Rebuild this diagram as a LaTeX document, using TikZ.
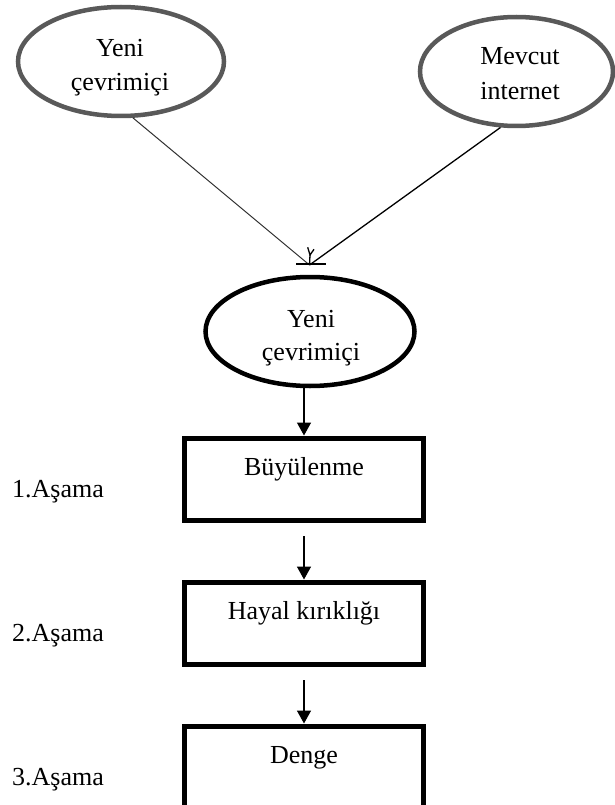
\documentclass[tikz,border=0pt]{standalone}
\usepackage{fontspec}
\setmainfont{Liberation Serif}
\usetikzlibrary{shapes.geometric,arrows.meta}
\begin{document}
\begin{tikzpicture}[x=1pt,y=-1pt,
  every node/.style={font=\fontsize{26}{34}\selectfont},
  txt/.style={anchor=base,inner sep=0pt},
  lbl/.style={anchor=base west,inner sep=0pt},
  grayell/.style={ellipse,draw=black!65,line width=4.5pt,inner sep=0pt,minimum height=109pt},
  blackell/.style={ellipse,draw=black,line width=4.5pt,inner sep=0pt,minimum height=109pt},
  stagebox/.style={rectangle,draw=black,line width=5pt,minimum width=239pt,minimum height=82pt,
    text height=18pt,text depth=26pt,inner sep=0pt},
  arr/.style={line width=1.5pt,-{Triangle[width=14pt,length=13pt]}},
  thinline/.style={line width=1pt,draw=black!80},
  blkline/.style={line width=1.3pt,draw=black}]
\useasboundingbox (0,0) rectangle (614,805);

% ellipses
\node[grayell,minimum width=206pt] (L) at (121,61.5) {};
\node[grayell,minimum width=193pt] (R) at (516.5,71.5) {};
\node[blackell,minimum width=209pt] (M) at (310,331.5) {};

\node[txt] (Lt1) at (120,57) {Yeni};
\node[txt] (Lt2) at (120,91) {çevrimiçi};
\node[txt] (Rt1) at (520,65) {Mevcut};
\node[txt] (Rt2) at (520,100) {internet};
\node[txt] (Mt1) at (311,327) {Yeni};
\node[txt] (Mt2) at (311,360) {çevrimiçi};

% converging connectors
\coordinate (T) at (309.5,265);
\draw[thinline] (L.-78) -- (T);
\draw[blkline] (R.-106) -- (T);
\coordinate (Ya) at (307.7,247.3);
\coordinate (Yb) at (314,249.3);
\coordinate (Yc) at (310,255);
\coordinate (Ba) at (296,264);
\coordinate (Bb) at (326,264);
\draw[blkline] (Ya) -- (Yc) -- (Yb);
\draw[blkline] (Yc) -- (T);
\draw[blkline] (Ba) -- (Bb);

% stage boxes
\node[stagebox] (B1) at (304,479) {Büyülenme};
\node[stagebox] (B2) at (304,623) {Hayal kırıklığı};
\node[stagebox] (B3) at (304,767) {Denge};

\node[lbl] (S1) at (12,497) {1.Aşama};
\node[lbl] (S2) at (12,641) {2.Aşama};
\node[lbl] (S3) at (12,785) {3.Aşama};

% vertical arrows
\draw[arr] (M.south -| B1.north) -- (B1.north);
\draw[arr,shorten <=13.5pt] (B1) -- (B2);
\draw[arr,shorten <=13.5pt] (B2) -- (B3);
\end{tikzpicture}
\end{document}
